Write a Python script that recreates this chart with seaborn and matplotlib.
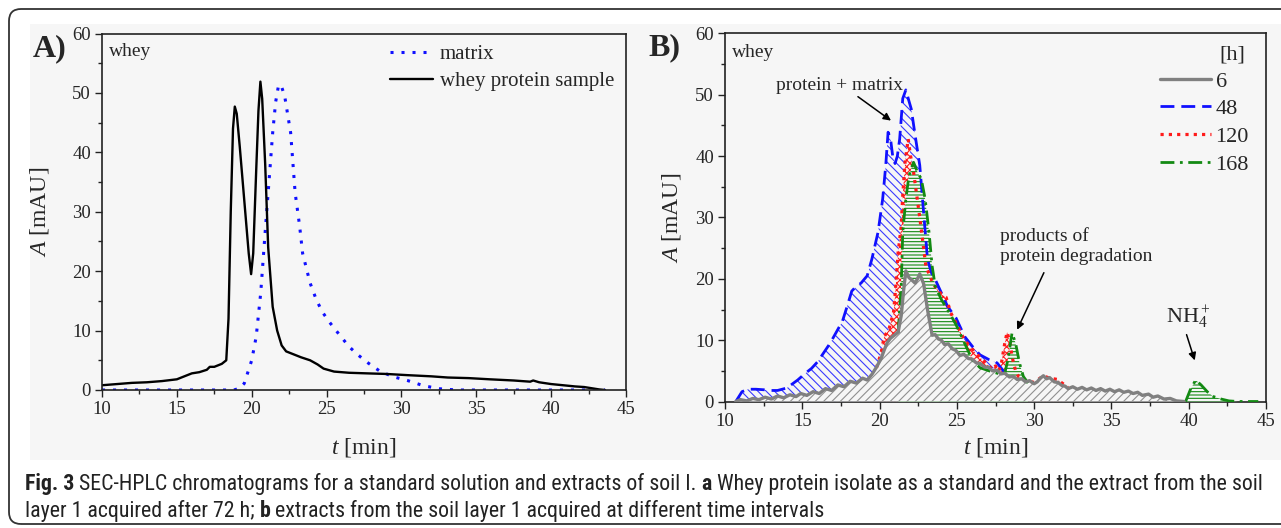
import seaborn as sns
import matplotlib.pyplot as plt
from matplotlib import font_manager
from matplotlib.font_manager import FontProperties
from matplotlib.lines import Line2D
from matplotlib.patches import FancyBboxPatch, Rectangle
from matplotlib.ticker import MultipleLocator
from matplotlib.transforms import IdentityTransform

# ---- panel A: whey protein sample vs matrix ----
whey_t = [10, 11, 12, 13, 14, 15, 15.5, 16, 16.5, 17, 17.2, 17.5, 18, 18.3, 18.45,
          18.6, 18.75, 18.87, 19.0, 19.2, 19.5, 19.8, 19.96, 20.1, 20.3, 20.45, 20.58,
          20.7, 20.9, 21.1, 21.4, 21.7, 22.0, 22.3, 22.8, 23.3, 23.9, 24.4, 24.8, 25.5,
          26.5, 27.7, 29, 30.4, 32, 33.1, 34.5, 35.9, 37.5, 38.6, 38.8, 39.2, 40, 40.8,
          41.6, 42.2, 42.7, 43.2, 43.6]
whey_a = [0.8, 1.0, 1.2, 1.3, 1.5, 1.8, 2.3, 2.8, 3.0, 3.4, 3.9, 3.9, 4.4, 5.0, 12,
          30, 44, 47.7, 46.5, 41, 32, 23, 19.5, 23, 37, 47, 51.9,
          49, 38, 24, 14, 10, 7.5, 6.5, 6.0, 5.5, 5.0, 4.3, 3.6, 3.1,
          2.9, 2.8, 2.7, 2.5, 2.3, 2.1, 2.0, 1.8, 1.6, 1.4, 1.6, 1.3, 1.0, 0.8,
          0.6, 0.5, 0.3, 0.1, 0]

matrix_t = [10, 18.8, 19.2, 19.5, 20.0, 20.3, 20.6, 20.86, 21.13, 21.4, 21.6, 21.8,
            22.0, 22.2, 22.6, 22.9, 23.2, 23.4, 23.9, 24.3, 24.7, 25.2, 25.7, 26.5,
            27.1, 27.8, 28.6, 29.5, 30.4, 31.5, 32.6, 33.7, 43.6]
matrix_a = [0, 0, 0.3, 1.1, 5, 9, 16.3, 25.3, 34.3, 43.3, 48.5, 51.4,
            51.0, 49.5, 43.3, 33.2, 27.6, 23, 18, 15.3, 13.2, 11.4, 9.8, 7.3,
            5.9, 4.5, 3.1, 2.2, 1.6, 0.7, 0.2, 0, 0]

# ---- panel B: extracts after 6, 48, 120, 168 h ----
g6_t = [10.7, 11.0, 11.4, 11.8, 12.2, 12.6, 13.0, 13.4, 13.8, 14.2,
        14.6, 14.9, 15.3, 15.7, 16.1, 16.5, 16.9, 17.3, 17.7, 18.1,
        18.5, 18.9, 19.2, 19.5, 19.8, 20.1, 20.3, 20.5, 20.7, 21.0,
        21.2, 21.4, 21.55, 21.7, 21.9, 22.05, 22.3, 22.45, 22.6, 22.85,
        23.1, 23.4, 23.6, 23.8, 24.0, 24.2, 24.45, 24.7, 24.95, 25.2,
        25.45, 25.75, 26.0, 26.25, 26.5, 26.8, 27.05, 27.3, 27.6, 27.85,
        28.1, 28.4, 28.65, 28.9, 29.2, 29.45, 29.7, 30.0, 30.2, 30.4,
        30.6, 30.8, 31.0, 31.3, 31.55, 31.8, 32.0, 32.2, 32.5, 32.8,
        33.1, 33.4, 33.7, 34.0, 34.3, 34.6, 34.9, 35.2, 35.5, 35.8,
        36.1, 36.4, 36.7, 37.0, 37.4, 37.7, 38.0, 38.4, 38.8, 39.2,
        39.7]
g6_a = [0.0, 0.3, 0.1, 0.5, 0.3, 0.7, 0.4, 0.9, 0.6, 1.1,
        0.8, 1.3, 1.0, 1.6, 1.3, 2.1, 1.8, 2.7, 2.4, 3.3,
        3.0, 3.8, 3.5, 4.4, 5.6, 7.0, 8.4, 9.6, 10.3, 10.9,
        11.3, 14.0, 18.0, 21.3, 20.2, 19.9, 19.3, 20.0, 20.8, 19.2,
        15.0, 10.8, 10.9, 10.2, 10.0, 9.3, 9.4, 8.6, 8.3, 7.5,
        7.7, 7.0, 6.9, 6.3, 6.2, 5.6, 5.6, 5.0, 5.1, 4.5,
        4.6, 4.0, 4.1, 3.6, 3.7, 3.2, 3.4, 2.9, 3.2, 3.8,
        4.2, 3.7, 3.9, 3.2, 3.1, 2.6, 2.5, 2.1, 2.4, 2.0,
        2.3, 1.9, 2.2, 1.8, 2.1, 1.7, 2.0, 1.6, 1.9, 1.5,
        1.7, 1.3, 1.5, 1.0, 1.2, 0.7, 0.9, 0.4, 0.5, 0.1,
        0.0]

b48_t = [10.7, 11.1, 11.5, 12.0, 12.6, 13.0, 13.4, 14.0, 14.7, 15.2,
         15.6, 16.0, 16.4, 16.8, 17.2, 17.6, 17.9, 18.2, 18.5, 18.8,
         19.2, 19.5, 19.9, 20.2, 20.4, 20.55, 20.7, 20.85, 21.0, 21.15,
         21.3, 21.5, 21.7, 21.9, 22.05, 22.3, 22.6, 22.85, 23.1, 23.35,
         23.6, 24.0, 24.4, 24.95, 25.5, 26.0, 26.5, 27.1, 27.6, 28.1]
b48_a = [0.0, 1.6, 2.0, 2.0, 1.9, 1.8, 1.8, 2.2, 3.5, 4.6,
         5.4, 6.5, 8.0, 9.5, 11.3, 13.1, 15.5, 18.0, 18.8, 19.3,
         20.5, 23.2, 27.6, 33.0, 38.5, 43.9, 43.0, 40.0, 38.8, 40.0,
         42.8, 49.4, 50.8, 49.0, 47.7, 43.4, 38.5, 30.8, 23.2, 21.0,
         19.9, 17.7, 15.5, 13.6, 10.6, 9.0, 7.6, 6.8, 6.3, 4.7]

r120_t = [19.8, 20.1, 20.3, 20.6, 20.9, 21.0, 21.2, 21.4, 21.5, 21.65,
          21.85, 22.0, 22.2, 22.6, 23.0, 23.5, 24.0, 24.3, 24.6, 25.0,
          25.5, 26.0, 26.5, 27.0, 27.3, 27.5, 27.7, 27.9, 28.1, 28.25,
          28.4, 28.6, 28.8, 29.0, 29.5, 30.0, 30.6, 31.0, 31.5, 31.7,
          32.2]
r120_a = [5.5, 7.9, 10.6, 11.7, 14.5, 17.2, 24.3, 28.6, 33.6, 39.0,
          42.8, 40.1, 37.4, 30.0, 22.0, 19.0, 17.5, 17.0, 14.5, 12.5,
          10.0, 8.5, 7.2, 6.0, 5.2, 5.8, 4.9, 6.5, 9.5, 11.3,
          10.0, 7.0, 5.0, 4.0, 3.4, 3.1, 4.2, 3.8, 3.6, 3.2,
          2.3]

g168_t = [21.2, 21.4, 21.5, 21.7, 21.9, 22.2, 22.45, 22.7, 22.95, 23.2,
          23.4, 23.6, 24.0, 24.4, 24.95, 25.5, 26.0, 26.5, 27.2, 27.9,
          28.1, 28.3, 28.57, 28.8, 29.05, 29.3, 29.6]
g168_a = [11.2, 18.8, 27.6, 33.0, 36.8, 39.0, 37.4, 36.3, 33.0, 27.6,
          22.1, 18.8, 16.6, 15.0, 12.5, 9.5, 6.8, 5.5, 4.9, 4.4,
          4.6, 6.8, 11.2, 9.5, 6.3, 4.1, 3.0]

# 168 h trace around the NH4+ peak
nh4_t = [39.8, 40.1, 40.45, 40.8, 41.2, 41.6, 42.1, 42.6, 43.2, 44.5]
nh4_a = [0.0, 1.9, 3.5, 2.7, 1.6, 0.8, 0.4, 0.1, 0.0, 0.0]

legend_b_labels = ["6", "48", "120", "168"]

CAPTION_1 = [("Fig. 3", True),
             (" SEC-HPLC chromatograms for a standard solution and extracts of soil I.", False),
             (" a", True),
             (" Whey protein isolate as a standard and the extract from the soil", False)]
CAPTION_2 = [("layer 1 acquired after 72 h;", False),
             (" b", True),
             (" extracts from the soil layer 1 acquired at different time intervals", False)]

# ---- style ----
sns.set_style("ticks")
plt.rcParams["font.family"] = ["Liberation Serif", "DejaVu Serif"]
plt.rcParams["mathtext.fontset"] = "custom"
plt.rcParams["mathtext.rm"] = "Liberation Serif"
plt.rcParams["mathtext.it"] = "Liberation Serif:italic"
plt.rcParams["mathtext.bf"] = "Liberation Serif:bold"
plt.rcParams["hatch.linewidth"] = 0.8

BG = "#f6f6f6"
BLUE = "#1010ff"
RED = "#ff1a1a"
GREEN = "#138a13"
GRAY = "#808080"
W, H = 1281, 528

fig = plt.figure(figsize=(W / 100, H / 100), dpi=100)
fig.patch.set_facecolor("white")


def px_axes(left, top, right, bottom):
    return [left / W, 1 - bottom / H, (right - left) / W, (bottom - top) / H]


# light grey figure area and rounded frame
fig.add_artist(Rectangle((30 / W, 1 - 460 / H), (1281 - 30) / W, (460 - 24) / H,
                         transform=fig.transFigure, facecolor=BG, edgecolor="none",
                         zorder=-5))
fig.add_artist(FancyBboxPatch((9, H - 524), 1320, 515,
                              boxstyle="round,pad=0,rounding_size=12",
                              transform=IdentityTransform(), fill=False,
                              edgecolor="#333333", linewidth=1.3, zorder=-4))


def style_axes(ax, xlab_y, ylab_x):
    ax.set_facecolor(BG)
    ax.set_xlim(10, 45)
    ax.set_ylim(0, 60)
    ax.xaxis.set_major_locator(MultipleLocator(5))
    ax.xaxis.set_minor_locator(MultipleLocator(2.5))
    ax.yaxis.set_major_locator(MultipleLocator(10))
    ax.yaxis.set_minor_locator(MultipleLocator(5))
    ax.tick_params(which="both", direction="out", top=False, right=False,
                   labelsize=13.5, color="#222222", width=1.0, pad=3)
    ax.tick_params(which="major", length=5)
    ax.tick_params(which="minor", length=3)
    for s in ax.spines.values():
        s.set_color("#222222")
        s.set_linewidth(1.2)
    ax.set_xlabel("$t$ [min]", fontsize=17)
    ax.set_ylabel("$A$ [mAU]", fontsize=17)
    ax.xaxis.set_label_coords(0.5, xlab_y)
    ax.yaxis.set_label_coords(ylab_x, 0.5)
    ax.text(10.45, 56.9, "whey", fontsize=14, va="center", ha="left")


# ---- panel A ----
ax1 = fig.add_axes(px_axes(102, 33.5, 626, 390))
sns.lineplot(x=matrix_t, y=matrix_a, ax=ax1, color=BLUE, lw=2.2,
             linestyle=(0, (1, 2.6)), estimator=None, sort=False)
sns.lineplot(x=whey_t, y=whey_a, ax=ax1, color="black", lw=1.7,
             estimator=None, sort=False)
style_axes(ax1, -0.13, -0.097)
ax1.legend([Line2D([], [], color=BLUE, lw=2.2, linestyle=(0, (1, 2.6))),
            Line2D([], [], color="black", lw=1.7)],
           ["matrix", "whey protein sample"], loc="upper left",
           bbox_to_anchor=(0.55, 0.968), frameon=False, fontsize=15,
           handlelength=2.07, handletextpad=0.3, labelspacing=0.35,
           borderpad=0, borderaxespad=0)

# ---- panel B ----
ax2 = fig.add_axes(px_axes(725, 33.5, 1266, 401.5))

fills = [
    (b48_t, b48_a, "#3a3aff", "\\\\\\\\", 1),
    (r120_t, r120_a, RED, "xxxxx", 2),
    (g168_t, g168_a, GREEN, "-----", 3),
    (nh4_t, nh4_a, GREEN, "-----", 3),
    (g6_t, g6_a, "#909090", "////", 4),
]
for t, a, col, hatch, z in fills:
    ax2.fill_between(t, 0, a, facecolor=BG, edgecolor=col, hatch=hatch,
                     linewidth=0, zorder=z)

b_styles = [
    (b48_t, b48_a, BLUE, 2.0, (0, (5, 2.5)), 6),
    (r120_t, r120_a, RED, 2.3, (0, (1, 1.6)), 7),
    (g168_t, g168_a, GREEN, 2.0, (0, (5, 2, 1, 2)), 8),
    (nh4_t, nh4_a, GREEN, 2.0, (0, (5, 2, 1, 2)), 8),
    (g6_t, g6_a, GRAY, 2.4, "-", 9),
]
for t, a, col, lw, ls, z in b_styles:
    sns.lineplot(x=t, y=a, ax=ax2, color=col, lw=lw, linestyle=ls,
                 estimator=None, sort=False, zorder=z)

style_axes(ax2, -0.093, -0.078)
ax2.legend([Line2D([], [], color=GRAY, lw=2.4),
            Line2D([], [], color=BLUE, lw=2.0, linestyle=(0, (5, 2.5))),
            Line2D([], [], color=RED, lw=2.3, linestyle=(0, (1, 1.6))),
            Line2D([], [], color=GREEN, lw=2.0, linestyle=(0, (5, 2, 1, 2)))],
           legend_b_labels, loc="upper left", bbox_to_anchor=(0.804, 0.898),
           frameon=False, fontsize=16, handlelength=2.3, handletextpad=0.2,
           labelspacing=0.32, borderpad=0, borderaxespad=0)
ax2.text(42.0, 56.5, "[h]", fontsize=16, va="center", ha="left")

arrow = dict(arrowstyle="-|>", color="black", lw=1.1, mutation_scale=11,
             shrinkA=0, shrinkB=0)
ax2.text(17.4, 51.6, "protein + matrix", fontsize=14, ha="center", va="center")
ax2.annotate("", xy=(20.74, 45.8), xytext=(18.6, 49.7), arrowprops=arrow)
ax2.text(27.8, 25.3, "products of\nprotein degradation", fontsize=14,
         ha="left", va="center", linespacing=1.25)
ax2.annotate("", xy=(28.9, 11.7), xytext=(30.63, 21.0), arrowprops=arrow)
ax2.text(40.0, 13.8, "NH$_4^+$", fontsize=16, ha="center", va="center")
ax2.annotate("", xy=(40.39, 6.7), xytext=(39.86, 10.9), arrowprops=arrow)

# panel letters
fig.text(33 / W, 1 - 49 / H, "A)", fontsize=23, fontweight="bold",
         ha="left", va="center")
fig.text(648 / W, 1 - 48 / H, "B)", fontsize=23, fontweight="bold",
         ha="left", va="center")

# ---- caption: pick a narrow sans with both regular and bold faces ----
entries = font_manager.fontManager.ttflist


def find_face(weight_ok, stretch_ok, names):
    for name in names:
        for f in entries:
            if (f.name == name and f.style == "normal" and weight_ok(f.weight)
                    and stretch_ok(f.stretch)):
                return f
    return None


def is_regular(w):
    return w in (400, "normal", "regular", "book")


def is_bold(w):
    return w in (600, 700, "bold", "semibold", "demibold")


narrow = ("condensed", "semi-condensed", "extra-condensed")
pref = ["Open Sans", "Noto Sans", "Roboto", "Liberation Sans Narrow",
        "Roboto Condensed", "DejaVu Sans"]
reg_face = find_face(is_regular, lambda s: s in narrow, pref)
bold_face = None
if reg_face is not None:
    bold_face = find_face(is_bold, lambda s: s == reg_face.stretch, [reg_face.name])
if reg_face is None or bold_face is None:
    reg_face = find_face(is_regular, lambda s: s == "normal", ["Open Sans", "Noto Sans"])
    bold_face = find_face(is_bold, lambda s: s == "normal", [reg_face.name])
FP_REG = reg_face.fname
FP_BOLD = bold_face.fname
renderer = fig.canvas.get_renderer()


def caption_line(y_px, runs, size):
    x = 25.0
    texts = []
    for s, bold in runs:
        fp = FontProperties(fname=FP_BOLD if bold else FP_REG, size=size)
        t = fig.text(x / W, 1 - y_px / H, s, fontproperties=fp, color="#222222",
                     ha="left", va="baseline")
        x += t.get_window_extent(renderer).width
        texts.append(t)
    return x, texts


end, tmp = caption_line(490, CAPTION_1, 12)
for t in tmp:
    t.remove()
cap_size = 12 * (1262 - 25) / (end - 25)
caption_line(490, CAPTION_1, cap_size)
caption_line(517, CAPTION_2, cap_size)

fig.savefig("out.png", dpi=100, facecolor="white")
